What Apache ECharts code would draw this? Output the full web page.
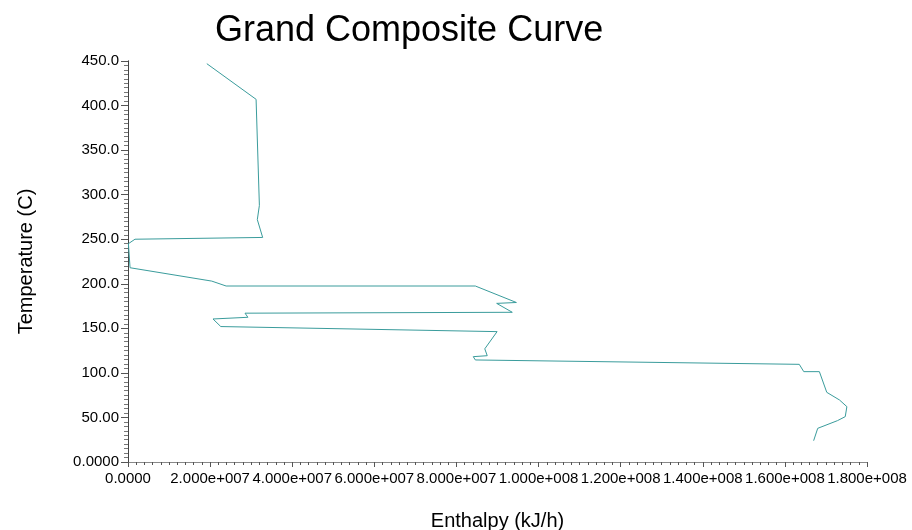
<!DOCTYPE html>
<html>
<head>
<meta charset="utf-8">
<script src="https://cdn.jsdelivr.net/npm/echarts@6/dist/echarts.min.js"></script>
<style>
html,body{margin:0;padding:0;background:#fff;}
#chart{width:912px;height:530px;}
</style>
</head>
<body>
<div id="chart"></div>
<script>
// Grand composite curve: path vertices in drawing order
var enthalpy = [19.2e6, 31.2e6, 32.0e6, 31.5e6, 32.8e6, 1.7e6, 0.1e6, 0.5e6, 20.4e6, 23.9e6,
  84.6e6, 94.6e6, 89.8e6, 93.6e6, 28.5e6, 29.2e6, 20.7e6, 22.6e6, 89.9e6, 86.9e6,
  87.5e6, 84.1e6, 84.6e6, 163.5e6, 164.6e6, 168.4e6, 170.2e6, 173.3e6, 175.1e6, 174.7e6,
  172.8e6, 168.0e6, 167.0e6];
var temperature = [447, 407, 288, 272, 252, 250, 245, 218, 203, 197.5,
  197.5, 179, 178, 168, 167, 162.4, 160.5, 152, 146.3, 127,
  119.3, 118.2, 114.5, 109.6, 101.4, 101.4, 78.2, 69.6, 62.1, 50.9,
  46.4, 37.8, 23.9];

var xTickLabels = ['0.0000','2.000e+007','4.000e+007','6.000e+007','8.000e+007','1.000e+008','1.200e+008','1.400e+008','1.600e+008','1.800e+008'];
var yTickLabels = ['0.0000','50.00','100.0','150.0','200.0','250.0','300.0','350.0','400.0','450.0'];

var titleText = 'Grand Composite Curve';
var xName = 'Enthalpy (kJ/h)';
var yName = 'Temperature (C)';

var points = enthalpy.map(function(h, i){ return [h, temperature[i]]; });
var FONT = '"Liberation Sans", Arial, sans-serif';

var chart = echarts.init(document.getElementById('chart'), null, {renderer:'canvas'});
chart.setOption({
  animation: false,
  backgroundColor: '#ffffff',
  title: {
    text: titleText,
    left: 210, top: 8,
    textStyle: {fontFamily: FONT, fontSize: 36, fontWeight: 'normal', color: '#000'}
  },
  grid: {left: 128, top: 61, right: 45, bottom: 68, show: false, containLabel: false, outerBoundsMode: 'none'},
  xAxis: [{
    type: 'value', min: 0, max: 1.8e8, interval: 2e7,
    name: xName, nameLocation: 'middle', nameGap: 49,
    nameTextStyle: {fontFamily: FONT, fontSize: 20, color: '#000'},
    axisLine: {show: true, lineStyle: {color: '#666', width: 1}},
    axisTick: {show: true, length: 5, lineStyle: {color: '#555'}},
    minorTick: {show: true, splitNumber: 10, length: 3, lineStyle: {color: '#555'}},
    splitLine: {show: false},
    axisLabel: {
      fontFamily: FONT, fontSize: 15, color: '#000', margin: 9,
      formatter: function(v){ return xTickLabels[Math.round(v / 2e7)]; }
    }
  }, {
    type: 'value', position: 'top', min: 0, max: 1.8e8,
    axisLine: {show: true, lineStyle: {color: '#888', width: 1}},
    axisTick: {show: false}, axisLabel: {show: false}, splitLine: {show: false}
  }],
  yAxis: [{
    type: 'value', min: 0, max: 450, interval: 50,
    name: yName, nameLocation: 'middle', nameGap: 92,
    nameTextStyle: {fontFamily: FONT, fontSize: 20, color: '#000'},
    axisLine: {show: true, lineStyle: {color: '#555', width: 1}},
    axisTick: {show: true, length: 7, lineStyle: {color: '#555'}},
    minorTick: {show: true, splitNumber: 10, length: 4, lineStyle: {color: '#777'}},
    splitLine: {show: false},
    axisLabel: {
      fontFamily: FONT, fontSize: 15, color: '#000', margin: 9,
      formatter: function(v){ return yTickLabels[Math.round(v / 50)]; }
    }
  }, {
    type: 'value', position: 'right', min: 0, max: 450,
    axisLine: {show: true, lineStyle: {color: '#444', width: 1}},
    axisTick: {show: false}, axisLabel: {show: false}, splitLine: {show: false}
  }],
  series: [{
    type: 'line',
    data: points,
    showSymbol: false,
    symbol: 'none',
    lineStyle: {color: '#3a9c9c', width: 1},
    silent: true
  }]
});
</script>
</body>
</html>
